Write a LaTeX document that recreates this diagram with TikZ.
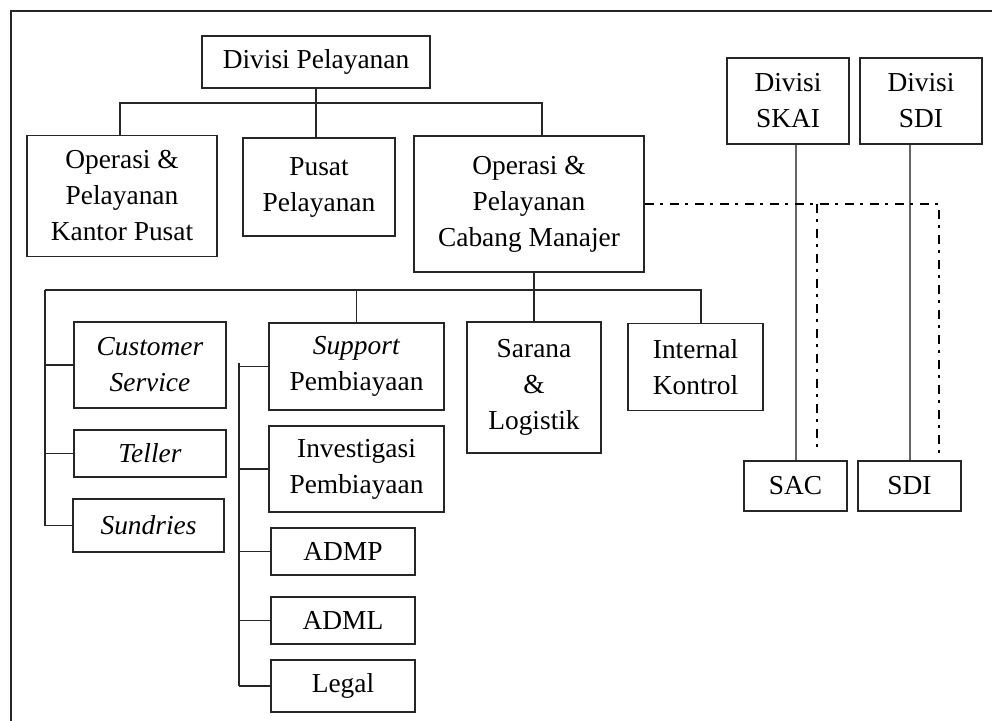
\documentclass[tikz,border=0pt]{standalone}
\usepackage{fontspec}
\setmainfont{Liberation Serif}
\usepackage{tikz}
\usetikzlibrary{positioning}

\begin{document}
\begin{tikzpicture}[
    x=1pt, y=-1pt,
    box/.style={draw=black!85, line width=1.5pt, align=center, inner sep=0pt,
                font=\fontsize{27.4}{36}\selectfont},
    ln/.style={draw=black!85, line width=1.5pt},
    grayln/.style={draw=black!60, line width=2pt},
    dashdot/.style={draw=black, line width=1.6pt,
                    dash pattern=on 9pt off 6pt on 3pt off 7pt}
  ]
    \useasboundingbox (0,0) rectangle (992,720);
    \draw[ln] (11,730) -- (11,11) -- (1000,11);

    % top level
    \node[box, minimum width=228, minimum height=52] (dp) at (316,62) {Divisi Pelayanan};
    \node[box, minimum width=190, minimum height=121] (opkp) at (122,196) {Operasi \&\\Pelayanan\\Kantor Pusat};
    \node[box, minimum width=152, minimum height=98] (pusat) at (319,187) {Pusat\\Pelayanan};
    \node[box, minimum width=230, minimum height=136] (opcm) at (529,204) {Operasi \&\\Pelayanan\\Cabang Manajer};
    \node[box, minimum width=122, minimum height=86] (skai) at (788,101) {Divisi\\SKAI};
    \node[box, minimum width=122, minimum height=86] (sdi) at (921,101) {Divisi\\SDI};

    % branch level
    \node[box, minimum width=152, minimum height=86] (cs) at (150,365) {\textit{Customer}\\\textit{Service}};
    \node[box, minimum width=152, minimum height=47] (teller) at (150,453.5) {\textit{Teller}};
    \node[box, minimum width=151, minimum height=53] (sundries) at (148.5,525.5) {\textit{Sundries}};
    \node[box, minimum width=175, minimum height=87] (support) at (356.5,366.5) {\textit{Support}\\Pembiayaan};
    \node[box, minimum width=175, minimum height=86] (invest) at (356.5,469) {Investigasi\\Pembiayaan};
    \node[box, minimum width=144, minimum height=47] (admp) at (343,551.5) {ADMP};
    \node[box, minimum width=144, minimum height=47] (adml) at (343,620.5) {ADML};
    \node[box, minimum width=144, minimum height=52] (legal) at (343,686) {Legal};
    \node[box, minimum width=134, minimum height=131] (sarana) at (534,387.5) {Sarana\\\&\\Logistik};
    \node[box, minimum width=135, minimum height=87] (intk) at (695.5,367) {Internal\\Kontrol};
    \node[box, minimum width=103, minimum height=50] (sac) at (795.5,486) {SAC};
    \node[box, minimum width=103, minimum height=50] (sdib) at (909.5,486) {SDI};

    \coordinate (bus1) at (120,103);
    \coordinate (bus2) at (45,290);
    \coordinate (spine) at (239,363);
    \coordinate (ddL) at (817,453);
    \coordinate (ddR) at (939,453);
    \coordinate (opcmtop) at ([xshift=13pt]opcm.north);
    \coordinate (opkptop) at ([xshift=-2pt]opkp.north);
    \coordinate (intktop) at ([xshift=5.5pt]intk.north);

    % connectors
    \draw[ln] (dp.south) -- (dp.south |- pusat.north);
    \draw[ln] (opkptop) |- (bus1) -| (opcmtop);
    \draw[ln] (sarana.north |- opcm.south) -- (sarana.north);
    \draw[ln] (bus2) -| (intktop);
    \draw[ln] (bus2 -| support.north) -- (support.north);
    \draw[ln] (bus2) -- (bus2 |- sundries.west);
    \foreach \n in {cs,teller,sundries}
      \draw[ln] (bus2 |- \n.west) -- (\n.west);
    \draw[ln] (spine) -- (spine |- legal.west);
    \foreach \n in {support,invest,admp,adml,legal}
      \draw[ln] (spine |- \n.west) -- (\n.west);
    \draw[grayln] (skai.south -| sac.north) -- (sac.north);
    \draw[grayln] (sdi.south -| sdib.north) -- (sdib.north);
    \draw[dashdot] (opcm.east) -| (ddR);
    \draw[dashdot] (opcm.east -| ddL) -- (ddL);
  \end{tikzpicture}
\end{document}
